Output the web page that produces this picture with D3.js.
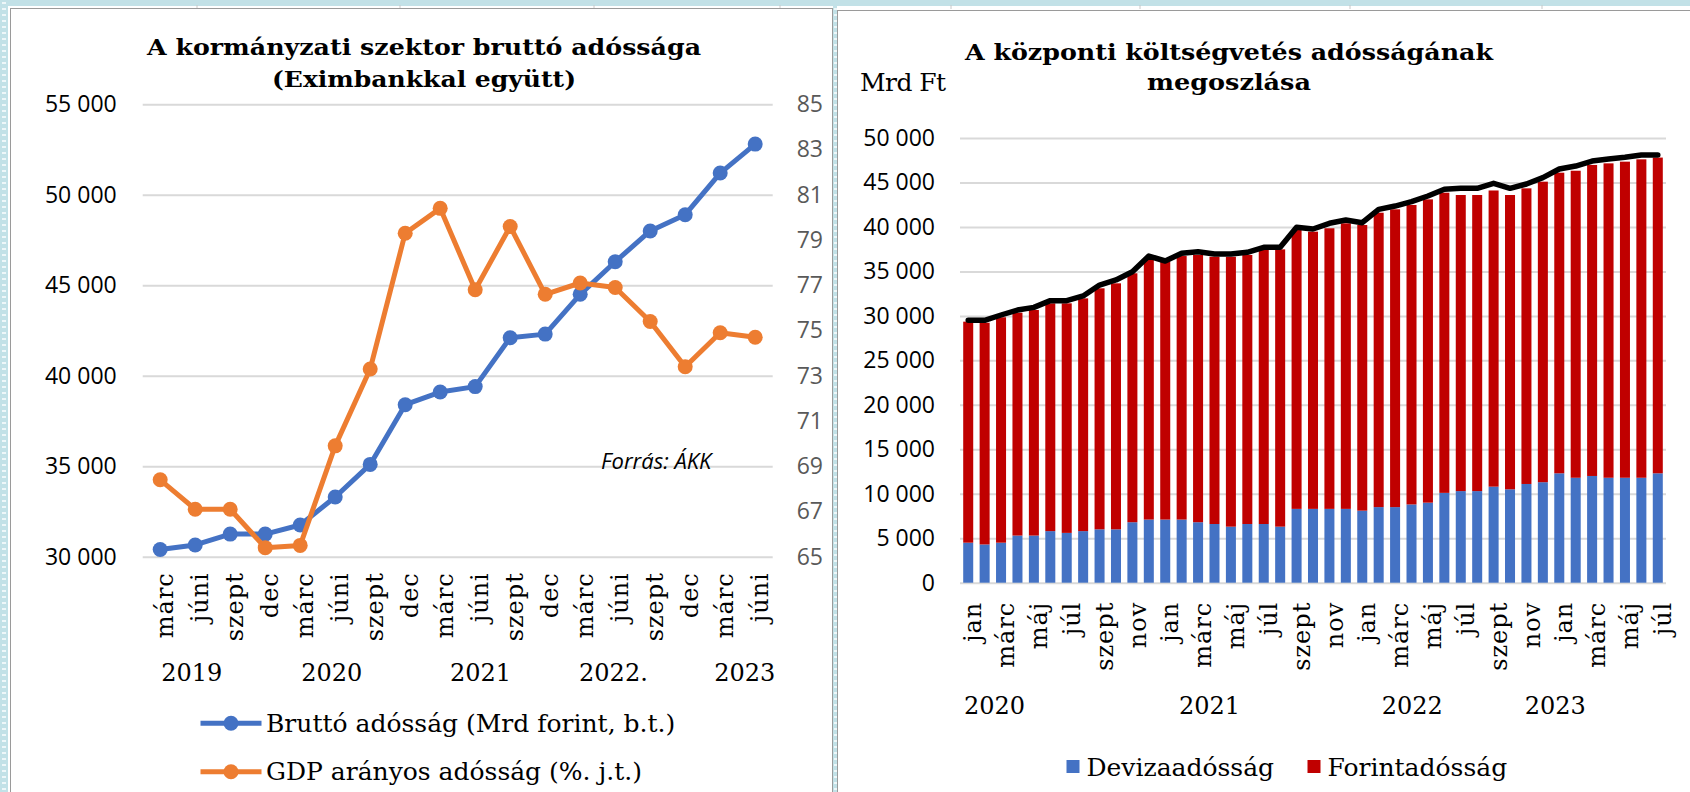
<!DOCTYPE html>
<html>
<head>
<meta charset="utf-8">
<script src="https://cdn.jsdelivr.net/npm/d3@7"></script>
<style>
body { margin: 0; background: #fff; }
svg { display: block; }
</style>
</head>
<body>
<svg id="chart" width="1690" height="792"></svg>
<script>
// --- left chart: general government gross debt (quarterly)
var quarters = ['márc', 'júni', 'szept', 'dec', 'márc', 'júni', 'szept', 'dec', 'márc', 'júni',
    'szept', 'dec', 'márc', 'júni', 'szept', 'dec', 'márc', 'júni'];
var quarterYears = ['2019', '2020', '2021', '2022.', '2023'];
var quarterYearAt = [0.9, 4.9, 9.15, 12.95, 16.7];
var grossDebt = [30400, 30650, 31250, 31250, 31750, 33300, 35100, 38400, 39100, 39400,
    42100, 42300, 44500, 46300, 48000, 48900, 51200, 52800];
var gdpRatio = [68.4, 67.1, 67.1, 65.4, 65.5, 69.9, 73.3, 79.3, 80.4, 76.8,
    79.6, 76.6, 77.1, 76.9, 75.4, 73.4, 74.9, 74.7];
var leftTicks = [30000, 35000, 40000, 45000, 50000, 55000];
var rightTicks = [65, 67, 69, 71, 73, 75, 77, 79, 81, 83, 85];

// --- right chart: central budget debt by currency (monthly, jan 2020 - júl 2023)
var months = ['jan', 'febr', 'márc', 'ápr', 'máj', 'jún', 'júl', 'aug', 'szept', 'okt', 'nov', 'dec',
    'jan', 'febr', 'márc', 'ápr', 'máj', 'jún', 'júl', 'aug', 'szept', 'okt', 'nov', 'dec',
    'jan', 'febr', 'márc', 'ápr', 'máj', 'jún', 'júl', 'aug', 'szept', 'okt', 'nov', 'dec',
    'jan', 'febr', 'márc', 'ápr', 'máj', 'jún', 'júl'];
var monthYears = ['2020', '2021', '2022', '2023'];
var monthYearAt = [1.6, 14.7, 27.05, 35.75];
var deviza = [4500, 4300, 4500, 5300, 5300, 5800, 5600, 5800, 6000, 6000, 6800, 7100,
    7100, 7100, 6800, 6600, 6300, 6600, 6600, 6300, 8300, 8300, 8300, 8300,
    8100, 8500, 8500, 8800, 9000, 10100, 10300, 10300, 10800, 10500, 11100, 11300,
    12300, 11800, 12000, 11800, 11800, 11800, 12300];
var forint = [24850, 24930, 25340, 25060, 25360, 25610, 25810, 26170, 27100, 27660, 27990, 29370,
    29000, 29630, 30050, 30050, 30350, 30250, 30810, 31180, 31360, 31170, 31550, 32110,
    32120, 33100, 33480, 33670, 34100, 33750, 33290, 33290, 33300, 33090, 33240, 33790,
    33800, 34520, 34970, 35350, 35540, 35800, 35500];
var totalDebt = [29500, 29500, 30100, 30660, 30960, 31710, 31710, 32240, 33470, 34040, 34970, 36730,
    36170, 37040, 37220, 36960, 36960, 37150, 37710, 37710, 39960, 39770, 40410, 40780,
    40480, 41980, 42350, 42840, 43480, 44230, 44340, 44340, 44900, 44340, 44830, 45540,
    46510, 46850, 47410, 47640, 47830, 48090, 48090];
var barTicks = [0, 5000, 10000, 15000, 20000, 25000, 30000, 35000, 40000, 45000, 50000];

var BLUE = '#4472c4';
var ORANGE = '#ed7d31';
var RED = '#c00000';
var GRID = '#d9d9d9';
var serif = '"DejaVu Serif", serif';
var sans = '"Open Sans", sans-serif';

var svg = d3.select('#chart');
var fmt = function (d) { return d3.format(',')(d).replace(/,/g, ' '); };

// sheet background around the two chart boxes
var defs = svg.append('defs');
var pat = defs.append('pattern').attr('id', 'dots').attr('width', 8).attr('height', 6)
    .attr('patternUnits', 'userSpaceOnUse');
pat.append('rect').attr('width', 8).attr('height', 6).attr('fill', '#c2e1e7');
pat.append('rect').attr('x', 2).attr('y', 2).attr('width', 4).attr('height', 2).attr('fill', '#eef7f9');
svg.append('rect').attr('x', 0).attr('y', 0).attr('width', 1690).attr('height', 6).attr('fill', '#c2e1e7');
svg.append('rect').attr('x', 0).attr('y', 0).attr('width', 8).attr('height', 792).attr('fill', 'url(#dots)');
svg.append('rect').attr('x', 833).attr('y', 6).attr('width', 4).attr('height', 786).attr('fill', 'url(#dots)');
[197, 400, 594, 780, 951, 1140, 1350, 1542].forEach(function (x) {
    svg.append('line').attr('x1', x).attr('x2', x).attr('y1', 5).attr('y2', 9)
        .attr('stroke', '#c8c8c8').attr('stroke-width', 1);
});
svg.append('rect').attr('x', 10.5).attr('y', 8.5).attr('width', 822).attr('height', 800)
    .attr('fill', '#fff').attr('stroke', '#9a9a9a');
svg.append('rect').attr('x', 837.5).attr('y', 10.5).attr('width', 870).attr('height', 800)
    .attr('fill', '#fff').attr('stroke', '#9a9a9a');

function title(lines, cx, baselines, widths) {
    lines.forEach(function (t, i) {
        svg.append('text')
            .attr('x', cx).attr('y', baselines[i])
            .attr('text-anchor', 'middle')
            .attr('font-family', serif).attr('font-weight', 'bold').attr('font-size', 22)
            .attr('textLength', widths[i]).attr('lengthAdjust', 'spacingAndGlyphs')
            .text(t);
    });
}

function styleRotated(g, offset) {
    g.select('.domain').remove();
    g.selectAll('.tick text')
        .attr('transform', 'rotate(-90)')
        .attr('text-anchor', 'end')
        .attr('x', -offset).attr('y', 0).attr('dy', '0.55em')
        .attr('font-family', serif).attr('font-size', 24).attr('letter-spacing', 1)
        .attr('fill', '#000');
}

// ================= LEFT CHART =================
var xL = d3.scaleBand().domain(d3.range(quarters.length)).range([142.7, 772.7]);
var yL = d3.scaleLinear().domain([30000, 55000]).range([556.7, 104.3]);
var yR = d3.scaleLinear().domain([65, 85]).range([556.7, 104.3]);
var cxL = function (i) { return xL(i) + xL.bandwidth() / 2; };

title(['A kormányzati szektor bruttó adóssága', '(Eximbankkal együtt)'], 424, [55, 87], [554, 304]);

var gyl = svg.append('g').attr('transform', 'translate(142.7,0)')
    .call(d3.axisLeft(yL).tickValues(leftTicks).tickSize(-630).tickPadding(26).tickFormat(fmt));
gyl.select('.domain').remove();
gyl.selectAll('.tick line').attr('stroke', GRID).attr('stroke-width', 2);
gyl.selectAll('.tick text').attr('font-family', sans).attr('font-size', 23).attr('fill', '#000');

var gyr = svg.append('g').attr('transform', 'translate(772.7,0)')
    .call(d3.axisRight(yR).tickValues(rightTicks).tickSize(0).tickPadding(24));
gyr.select('.domain').remove();
gyr.selectAll('.tick text').attr('font-family', sans).attr('font-size', 23).attr('fill', '#595959');

var gxl = svg.append('g').attr('transform', 'translate(0,556.7)')
    .call(d3.axisBottom(xL).tickSize(0).tickFormat(function (i) { return quarters[i]; }));
styleRotated(gxl, 15.5);

quarterYears.forEach(function (y, k) {
    svg.append('text')
        .attr('x', xL.range()[0] + xL.step() * (quarterYearAt[k] + 0.5)).attr('y', 672.7)
        .attr('dy', '0.36em').attr('text-anchor', 'middle')
        .attr('font-family', serif).attr('font-size', 24).text(y);
});

var lineBlue = d3.line().x(function (d, i) { return cxL(i); }).y(function (d) { return yL(d); });
var lineOrange = d3.line().x(function (d, i) { return cxL(i); }).y(function (d) { return yR(d); });

function series(data, gen, scale, color) {
    var g = svg.append('g');
    g.append('path').attr('d', gen(data)).attr('fill', 'none')
        .attr('stroke', color).attr('stroke-width', 5).attr('stroke-linejoin', 'round');
    g.selectAll('circle').data(data).enter().append('circle')
        .attr('cx', function (d, i) { return cxL(i); })
        .attr('cy', function (d) { return scale(d); })
        .attr('r', 7.5).attr('fill', color);
}
series(grossDebt, lineBlue, yL, BLUE);
series(gdpRatio, lineOrange, yR, ORANGE);

svg.append('text').attr('x', 601).attr('y', 469)
    .attr('font-family', sans).attr('font-style', 'italic').attr('font-size', 22)
    .text('Forrás: ÁKK');

var legL = [
    { label: 'Bruttó adósság (Mrd forint, b.t.)', color: BLUE, y: 723.3 },
    { label: 'GDP arányos adósság (%. j.t.)', color: ORANGE, y: 771.7 }
];
legL.forEach(function (d) {
    svg.append('line').attr('x1', 200.5).attr('x2', 261.5).attr('y1', d.y).attr('y2', d.y)
        .attr('stroke', d.color).attr('stroke-width', 5);
    svg.append('circle').attr('cx', 231).attr('cy', d.y).attr('r', 7.5).attr('fill', d.color);
    svg.append('text').attr('x', 266).attr('y', d.y + 8.5)
        .attr('font-family', serif).attr('font-size', 25).text(d.label);
});

// ================= RIGHT CHART =================
var xB = d3.scaleBand().domain(d3.range(months.length)).range([960, 1666])
    .paddingInner(0.39).paddingOuter(0.195);
var yB = d3.scaleLinear().domain([0, 50000]).range([582.7, 138]);
var cxB = function (i) { return xB(i) + xB.bandwidth() / 2; };

title(['A központi költségvetés adósságának', 'megoszlása'], 1229, [60, 89.5], [528, 164]);

svg.append('text').attr('x', 860).attr('y', 90.5)
    .attr('font-family', serif).attr('font-size', 25).attr('textLength', 86)
    .text('Mrd Ft');

var gyb = svg.append('g').attr('transform', 'translate(960,0)')
    .call(d3.axisLeft(yB).tickValues(barTicks).tickSize(-706).tickPadding(25).tickFormat(fmt));
gyb.select('.domain').remove();
gyb.selectAll('.tick line').attr('stroke', GRID).attr('stroke-width', 2);
gyb.selectAll('.tick text').attr('font-family', sans).attr('font-size', 23).attr('fill', '#000');

var rows = months.map(function (m, i) { return { deviza: deviza[i], forint: forint[i] }; });
var layers = d3.stack().keys(['deviza', 'forint'])(rows);
var layerColor = { deviza: BLUE, forint: RED };

svg.append('g').selectAll('g').data(layers).enter().append('g')
    .attr('fill', function (l) { return layerColor[l.key]; })
    .selectAll('rect').data(function (l) { return l; }).enter().append('rect')
    .attr('x', function (d, i) { return xB(i); })
    .attr('y', function (d) { return yB(d[1]); })
    .attr('width', xB.bandwidth())
    .attr('height', function (d) { return yB(d[0]) - yB(d[1]); });

var lineTotal = d3.line().x(function (d, i) { return cxB(i); }).y(function (d) { return yB(d); });
svg.append('path').attr('d', lineTotal(totalDebt)).attr('fill', 'none')
    .attr('stroke', '#000').attr('stroke-width', 5.5)
    .attr('stroke-linejoin', 'round').attr('stroke-linecap', 'round');

var gxb = svg.append('g').attr('transform', 'translate(0,582.7)')
    .call(d3.axisBottom(xB).tickSize(0)
        .tickValues(d3.range(0, months.length, 2))
        .tickFormat(function (i) { return months[i]; }));
styleRotated(gxb, 19);

monthYears.forEach(function (y, k) {
    svg.append('text')
        .attr('x', xB.range()[0] + xB.step() * (monthYearAt[k] + 0.5)).attr('y', 705)
        .attr('dy', '0.36em').attr('text-anchor', 'middle')
        .attr('font-family', serif).attr('font-size', 24).text(y);
});

var legB = [
    { label: 'Devizaadósság', color: BLUE, x: 1066.5 },
    { label: 'Forintadósság', color: RED, x: 1307.5 }
];
legB.forEach(function (d) {
    svg.append('rect').attr('x', d.x).attr('y', 760).attr('width', 13).attr('height', 13)
        .attr('fill', d.color);
    svg.append('text').attr('x', d.x + 20).attr('y', 776)
        .attr('font-family', serif).attr('font-size', 25).text(d.label);
});
</script>
</body>
</html>
